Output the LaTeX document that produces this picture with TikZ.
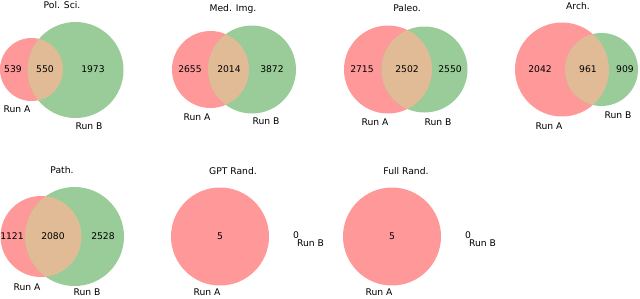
\documentclass[tikz,border=0pt]{standalone}
\usepackage{fontspec}
\setmainfont{DejaVu Sans}
\definecolor{colA}{RGB}{255,153,153}
\definecolor{colB}{RGB}{153,204,153}
\definecolor{colAB}{RGB}{224,187,150}
\tikzset{
  lbl/.style={font=\fontsize{9.2}{10}\selectfont, inner sep=0pt},
  setA/.style={fill=colA},
  setB/.style={fill=colB},
  setAB/.style={fill=colAB},
}
\newcommand{\vennpair}[6]{%
  \path[setA] (#1,#2) circle[radius=#3];
  \path[setB] (#4,#5) circle[radius=#6];
  \begin{scope}
    \clip (#1,#2) circle[radius=#3];
    \path[setAB] (#4,#5) circle[radius=#6];
  \end{scope}}
\begin{document}
\begin{tikzpicture}[x=1pt,y=-1pt]
\useasboundingbox (0,0) rectangle (640,298);
% Pol. Sci.
\vennpair{31.5}{69.5}{31.5}{75.5}{70}{48}
\node[lbl] (t1) at (62,5) {Pol. Sci.};
\node[lbl] (a1) at (13,69) {539};
\node[lbl] (ab1) at (45,69) {550};
\node[lbl] (b1) at (93,69) {1973};
\node[lbl] (ra1) at (17,109) {Run A};
\node[lbl] (rb1) at (89,126) {Run B};
% Med. Img.
\vennpair{210.5}{69.5}{38.5}{252}{69.5}{44}
\node[lbl] (t2) at (233,9) {Med. Img.};
\node[lbl] (a2) at (190,69) {2655};
\node[lbl] (ab2) at (229,69) {2014};
\node[lbl] (b2) at (272,69) {3872};
\node[lbl] (ra2) at (197,117) {Run A};
\node[lbl] (rb2) at (266,121) {Run B};
% Paleo.
\vennpair{388}{69.5}{44}{424.5}{69.5}{43}
\node[lbl] (t3) at (407,8) {Paleo.};
\node[lbl] (a3) at (362,69) {2715};
\node[lbl] (ab3) at (407,69) {2502};
\node[lbl] (b3) at (450,69) {2550};
\node[lbl] (ra3) at (375,122) {Run A};
\node[lbl] (rb3) at (438,122) {Run B};
% Arch.
\vennpair{562}{69.5}{47}{601.5}{69.5}{36.5}
\node[lbl] (t4) at (578,6) {Arch.};
\node[lbl] (a4) at (540,69) {2042};
\node[lbl] (ab4) at (588,69) {961};
\node[lbl] (b4) at (625,69) {909};
\node[lbl] (ra4) at (549,126) {Run A};
\node[lbl] (rb4) at (618,115) {Run B};
% Path.
\vennpair{41}{236.5}{40.5}{74.5}{236.5}{49.5}
\node[lbl] (t5) at (62,170) {Path.};
\node[lbl] (a5) at (12,236) {1121};
\node[lbl] (ab5) at (53,236) {2080};
\node[lbl] (b5) at (103,236) {2528};
\node[lbl] (ra5) at (27,287) {Run A};
\node[lbl] (rb5) at (87,292) {Run B};
% GPT Rand.
\path[setA] (220,236.5) circle[radius=49];
\node[lbl] (t6) at (233,171) {GPT Rand.};
\node[lbl] (a6) at (220,236) {5};
\node[lbl] (b6) at (296,235) {0};
\node[lbl] (ra6) at (207,292) {Run A};
\node[lbl] (rb6) at (310.5,243) {Run B};
% Full Rand.
\path[setA] (392,236.5) circle[radius=49];
\node[lbl] (t7) at (406,171) {Full Rand.};
\node[lbl] (a7) at (392,236) {5};
\node[lbl] (b7) at (468,235) {0};
\node[lbl] (ra7) at (379,292) {Run A};
\node[lbl] (rb7) at (482.5,243) {Run B};
\end{tikzpicture}
\end{document}
